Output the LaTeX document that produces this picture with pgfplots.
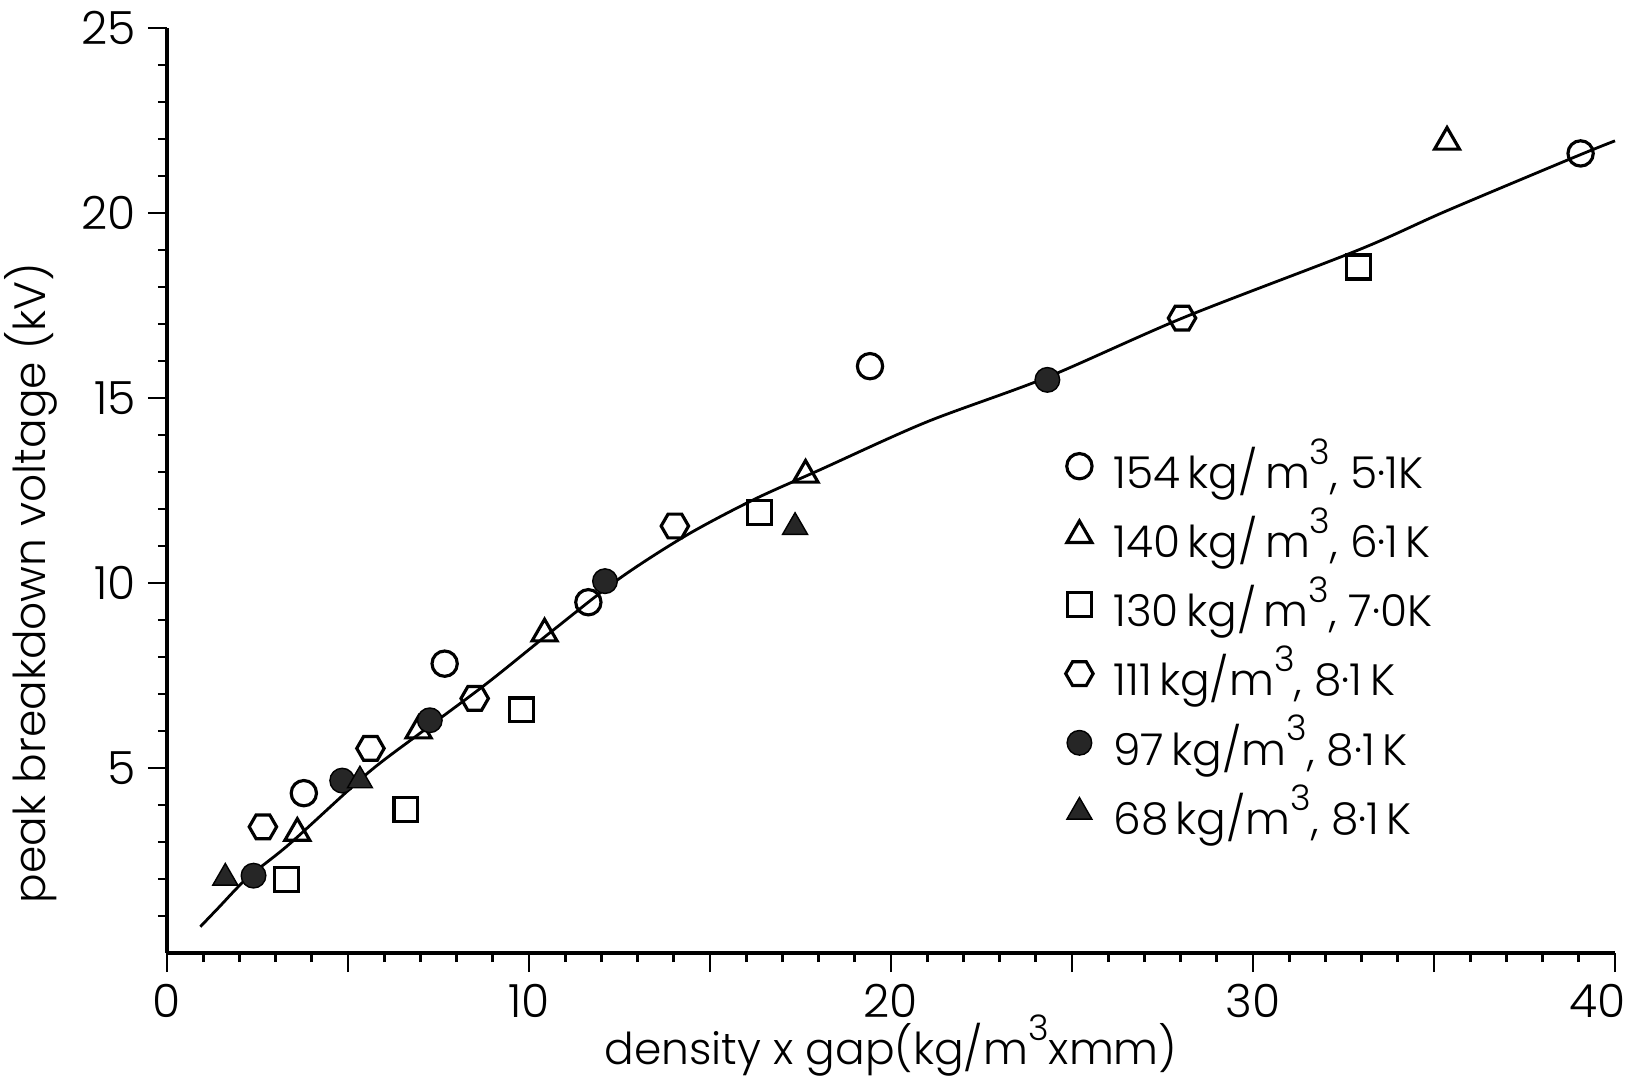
\documentclass[border=0pt]{standalone}
\usepackage{fontspec}
\setmainfont{Poppins}[UprightFont=* Light]
\usepackage{pgfplots}
\pgfplotsset{compat=1.18}

% hexagon mark, points left and right
\pgfdeclareplotmark{hexagon}{%
  \pgfpathmoveto{\pgfqpointpolar{0}{\pgfplotmarksize}}%
  \pgfpathlineto{\pgfqpointpolar{60}{\pgfplotmarksize}}%
  \pgfpathlineto{\pgfqpointpolar{120}{\pgfplotmarksize}}%
  \pgfpathlineto{\pgfqpointpolar{180}{\pgfplotmarksize}}%
  \pgfpathlineto{\pgfqpointpolar{240}{\pgfplotmarksize}}%
  \pgfpathlineto{\pgfqpointpolar{300}{\pgfplotmarksize}}%
  \pgfpathclose
  \pgfusepathqstroke
}
\newcommand{\cube}{\raisebox{0.55em}{\fontsize{10}{10}\selectfont 3}}

\begin{document}
\begin{tikzpicture}[font=\fontsize{12.5}{15}\selectfont]
\useasboundingbox (0,0) rectangle (16.36,10.82);
\begin{axis}[
  at={(1.67cm,1.29cm)}, anchor=south west,
  scale only axis, width=14.48cm, height=9.25cm,
  xmin=0, xmax=40, ymin=0, ymax=25,
  axis lines=left,
  axis line style={-, line width=1.1pt},
  tick align=outside,
  xtick={0,5,...,35}, xticklabels={0,,10,,20,,30,},
  extra x ticks={40}, extra x tick labels={40},
  extra x tick style={xticklabel style={xshift=-5pt}},
  minor xtick={1,...,39},
  ytick={5,10,...,25},
  minor ytick={1,...,24},
  major tick length=0.19cm, minor tick length=0.09cm,
  tick style={line width=0.8pt, black},
  /pgf/number format/assume math mode=true,
  tick label style={font=\fontsize{13}{15}\selectfont},
  xlabel={density x gap(kg/m\cube xmm)},
  xlabel style={at={(rel axis cs:0.5,0)}, anchor=base, yshift=-1.12cm,
    font=\fontsize{12.5}{15}\selectfont},
  ylabel={peak breakdown voltage (kV)},
  ylabel style={at={(ticklabel cs:0.40)}, font=\fontsize{12.5}{15}\selectfont},
  clip=false,
  legend cell align=left,
  legend style={draw=none, fill=none,
    at={(rel axis cs:0.612,0.572)}, anchor=north west,
    row sep=0.0cm, font=\fontsize{12.5}{15}\selectfont},
  legend image code/.code={\path[draw=none] (0,0) rectangle (0.42cm,0);
    \draw[#1] plot coordinates {(0.15cm,0cm)};},
]
% fitted curve
\addplot[smooth, line width=0.8pt, forget plot] coordinates {
  (0.92,0.71) (1.41,1.21) (2.22,2.03) (3.40,2.96) (5.53,4.85) (6.99,5.94)
  (8.84,7.29) (10.66,8.72) (12.51,10.13) (14.35,11.29) (16.2,12.25)
  (18.04,13.06) (20.98,14.35) (24.29,15.55) (28.10,17.18) (32.91,19.0)
  (35.33,20.05) (38.93,21.53) (40.0,21.95)
};
% 154 kg/m3, 5.1 K
\addplot[only marks, mark=o, mark size=3.6pt, mark options={line width=0.9pt}] coordinates {
  (3.78,4.32) (7.67,7.82) (11.64,9.48) (19.42,15.86) (39.05,21.61)
};
\addlegendentry{154\,kg/\,m\cube, 5·1K}
% 140 kg/m3, 6.1 K
\addplot[only marks, mark=triangle, mark size=4.1pt, mark options={line width=0.9pt}] coordinates {
  (3.60,3.24) (6.95,6.01) (10.43,8.63) (17.64,12.92) (35.36,21.92)
};
\addlegendentry{140\,kg/\,m\cube, 6·1\,K}
% 130 kg/m3, 7.0 K
\addplot[only marks, mark=square, mark size=3.4pt, mark options={line width=0.9pt}] coordinates {
  (3.31,1.98) (6.60,3.87) (9.80,6.57) (16.37,11.91) (32.91,18.54)
};
\addlegendentry{130\,kg/\,m\cube, 7·0K}
% 111 kg/m3, 8.1 K
\addplot[only marks, mark=hexagon, mark size=3.9pt, mark options={line width=0.9pt}] coordinates {
  (2.65,3.41) (5.62,5.53) (8.50,6.88) (14.03,11.54) (28.04,17.16)
};
\addlegendentry{111\,kg/m\cube, 8·1\,K}
% 97 kg/m3, 8.1 K
\addplot[only marks, mark=*, mark size=3.5pt, mark options={fill=black!85, draw=black}] coordinates {
  (2.39,2.09) (4.84,4.66) (7.26,6.29) (12.10,10.05) (24.32,15.49)
};
\addlegendentry{97\,kg/m\cube, 8·1\,K}
% 68 kg/m3, 8.1 K
\addplot[only marks, mark=triangle*, mark size=4.1pt, mark options={fill=black!85, draw=black}] coordinates {
  (1.61,2.03) (5.33,4.66) (17.35,11.51)
};
\addlegendentry{68\,kg/m\cube, 8·1\,K}
\end{axis}
\end{tikzpicture}
\end{document}
